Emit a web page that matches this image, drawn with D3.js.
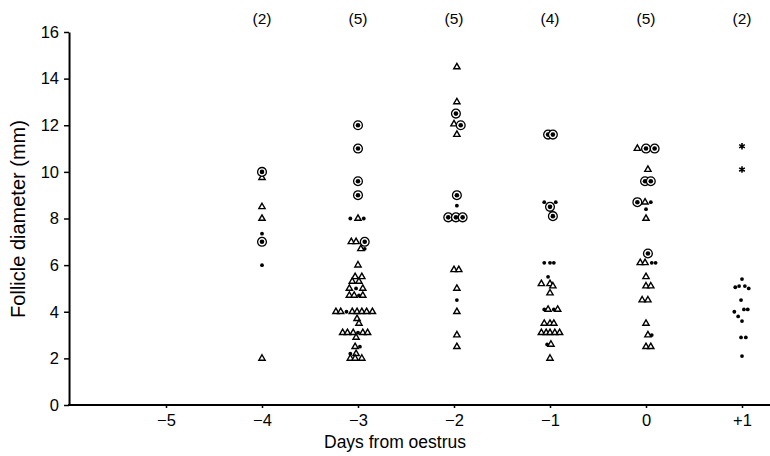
<!DOCTYPE html>
<html><head><meta charset="utf-8">
<script src="https://cdn.jsdelivr.net/npm/d3@7"></script>
<style>body{margin:0;background:#fff}svg{display:block}text{font-family:"Liberation Sans",Arial,sans-serif;fill:#000}</style>
</head><body><svg id="c" width="770" height="456"></svg>
<script>
const dayTicks = [-5,-4,-3,-2,-1,0,1];
const dayLabels = ["\u22125","\u22124","\u22123","\u22122","\u22121","0","+1"];
const countDays = [-4,-3,-2,-1,0,1];
const countLabels = ["(2)","(5)","(5)","(4)","(5)","(2)"];
const yTicks = [0,2,4,6,8,10,12,14,16];

// [day (with horizontal spread), diameter mm]
const triangles = [
 [-4,9.75],[-4,8.5],[-4,8.0],[-4,2.0],
 [-3,8.0],[-3.07,7.0],[-3.02,7.0],[-2.97,6.7],[-3,6.0],[-3.03,5.5],[-2.96,5.5],[-3.06,5.3],[-2.99,5.3],
 [-3.09,5.0],[-2.95,5.0],[-3.09,4.7],[-3.04,4.7],[-2.95,4.7],
 [-3.23,4.0],[-3.18,4.0],[-3.06,4.0],[-3.01,4.0],[-2.96,4.0],[-2.91,4.0],[-2.85,4.0],
 [-3.01,3.7],[-2.99,3.5],[-3.16,3.1],[-3.11,3.1],[-3.05,3.1],[-2.95,3.1],[-2.90,3.1],[-3.02,2.9],
 [-3.03,2.5],[-3.02,2.2],[-3.08,2.0],[-3.03,2.0],[-2.96,2.0],
 [-1.97,14.5],[-1.97,13.0],[-2.0,12.05],[-1.97,11.6],[-2.0,5.8],[-1.95,5.8],[-1.97,5.0],[-1.97,4.0],[-1.97,3.0],[-1.97,2.5],
 [-1.09,5.2],[-1.0,5.2],[-0.97,5.1],[-1.0,4.8],[-1.02,4.1],[-0.92,4.1],[-1.06,3.5],[-1.0,3.5],[-0.96,3.5],
 [-1.09,3.1],[-1.04,3.1],[-1.0,3.1],[-0.95,3.1],[-0.9,3.1],[-0.99,2.6],[-1.0,2.0],
 [-0.09,11.0],[0.02,10.1],[-0.01,8.7],[0,8.0],[-0.06,6.1],[-0.01,6.1],[0,5.5],[0,5.1],[0.05,5.1],
 [-0.04,4.5],[0.02,4.5],[0,3.5],[0.02,3.0],[0,2.5],[0.05,2.5]
];
const circled = [
 [-4,10.0],[-4,7.0],
 [-3,12.0],[-3,11.0],[-3,9.6],[-3,9.0],[-2.93,7.0],
 [-1.98,12.5],[-1.93,12.0],[-1.97,9.0],[-2.06,8.05],[-1.98,8.05],[-1.91,8.05],
 [-1.02,11.6],[-0.97,11.6],[-1.0,8.5],[-0.97,8.1],
 [0,11.0],[0.09,11.0],[-0.01,9.6],[0.05,9.6],[-0.09,8.7],[0.02,6.5]
];
const dots = [
 [-4,7.35],[-4,6.0],
 [-3.08,8.0],[-2.94,8.0],[-2.93,6.7],[-3.02,5.0],[-2.99,4.7],[-3.12,4.0],[-3.0,3.1],[-2.98,2.5],[-3.08,2.2],
 [-1.97,8.55],[-1.97,4.5],
 [-1.06,8.7],[-0.94,8.7],[-1.06,6.1],[-1.0,6.1],[-0.96,6.1],[-1.02,5.5],[-1.06,4.1],[-0.96,4.1],[-1.03,2.6],
 [0.05,8.7],[0,8.4],[0.06,6.1],[0.1,6.1],[0.06,3.0],
 [1,5.4],[0.93,5.05],[0.97,5.1],[1.03,5.1],[1.07,5.0],[0.99,4.5],[0.92,4.0],[1.02,4.1],[1.06,4.1],
 [0.96,3.8],[1,3.6],[0.99,2.9],[1.04,2.9],[1,2.1]
];
const asterisks = [[1,11.1],[1,10.1]];

const svg = d3.select("#c");
const x = d3.scaleLinear().domain([-5,1]).range([166,742]);
const y = d3.scaleLinear().domain([0,16]).range([405,32]);
const x0 = x(-6.01);

// axes
const gy = svg.append("g").attr("transform",`translate(${x0},0)`)
  .call(d3.axisLeft(y).tickValues(yTicks).tickSize(5).tickSizeOuter(0).tickPadding(5));
gy.select(".domain").attr("stroke","#000").attr("stroke-width",2);
gy.selectAll(".tick line").attr("stroke","#000").attr("stroke-width",1.5);
gy.selectAll(".tick text").style("font-size","16.5px");

svg.append("line").attr("x1",x0-1).attr("x2",770).attr("y1",y(0)).attr("y2",y(0))
  .attr("stroke","#000").attr("stroke-width",2);
const gx = svg.append("g").attr("transform",`translate(0,${y(0)})`)
  .call(d3.axisBottom(x).tickValues(dayTicks).tickFormat((d,i)=>dayLabels[i]).tickSize(3).tickSizeOuter(0).tickPadding(6));
gx.select(".domain").remove();
gx.selectAll(".tick line").attr("stroke","#000").attr("stroke-width",1.5);
gx.selectAll(".tick text").style("font-size","16.5px");

// counts
svg.selectAll("text.cnt").data(countDays).enter().append("text").attr("class","cnt")
  .attr("x",d=>x(d)).attr("y",24).attr("text-anchor","middle").style("font-size","15.5px")
  .text((d,i)=>countLabels[i]);

// titles
svg.append("text").attr("x",395).attr("y",448).attr("text-anchor","middle").style("font-size","17.5px").text("Days from oestrus");
svg.append("text").attr("transform","translate(25,219) rotate(-90)").attr("text-anchor","middle").style("font-size","20px").text("Follicle diameter (mm)");

// marks
const tri = d3.symbol().type(d3.symbolTriangle).size(17);
svg.append("g").selectAll("path").data(triangles).enter().append("path")
  .attr("d",tri).attr("transform",d=>`translate(${x(d[0])},${y(d[1])})`)
  .attr("fill","#fff").attr("stroke","#000").attr("stroke-width",1.4);
const cg = svg.append("g").selectAll("g").data(circled).enter().append("g")
  .attr("transform",d=>`translate(${x(d[0])},${y(d[1])})`);
cg.append("circle").attr("r",4.4).attr("fill","#fff").attr("stroke","#000").attr("stroke-width",1.3);
cg.append("circle").attr("r",2.3).attr("fill","#000");
svg.append("g").selectAll("circle").data(dots).enter().append("circle")
  .attr("cx",d=>x(d[0])).attr("cy",d=>y(d[1])).attr("r",1.9).attr("fill","#000");
const ast = d3.symbol().type(d3.symbolAsterisk).size(30);
svg.append("g").selectAll("path").data(asterisks).enter().append("path")
  .attr("d",ast).attr("transform",d=>`translate(${x(d[0])},${y(d[1])})`)
  .attr("fill","none").attr("stroke","#000").attr("stroke-width",1.6);
</script></body></html>
